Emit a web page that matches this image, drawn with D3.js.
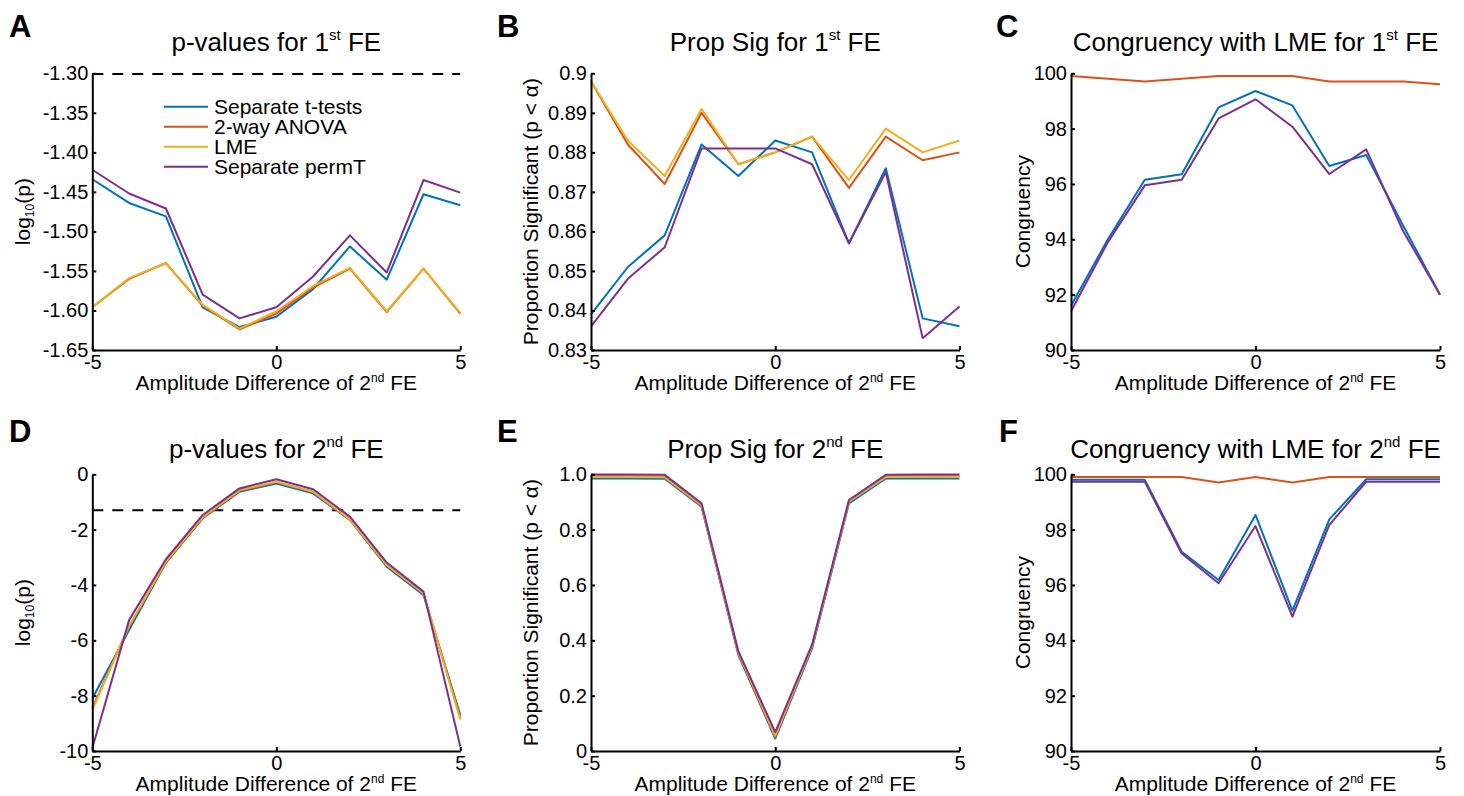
<!DOCTYPE html>
<html>
<head>
<meta charset="utf-8">
<script src="https://cdn.jsdelivr.net/npm/d3@7/dist/d3.min.js"></script>
<style>
  html, body { margin: 0; padding: 0; background: #fff; }
  svg text { font-family: Arial, "Liberation Sans", Helvetica, sans-serif; fill: #000; }
</style>
</head>
<body>
<svg id="chart" width="1464" height="796"></svg>
<script>
// ---------------- DATA ----------------
const xVals = [-5, -4, -3, -2, -1, 0, 1, 2, 3, 4, 5];
const seriesNames = ["Separate t-tests", "2-way ANOVA", "LME", "Separate permT"];
const seriesColors = ["#0072BD", "#D95319", "#EDB120", "#7E2F8E"];

// Panel A: p-values for 1st FE (log10 p)
const aTtest = [-1.434, -1.464, -1.481, -1.596, -1.621, -1.608, -1.573, -1.519, -1.561, -1.453, -1.467];
const aAnova = [-1.596, -1.560, -1.540, -1.594, -1.624, -1.604, -1.571, -1.547, -1.602, -1.547, -1.604];
const aLme   = [-1.596, -1.559, -1.540, -1.593, -1.623, -1.601, -1.569, -1.546, -1.601, -1.547, -1.603];
const aPermT = [-1.422, -1.452, -1.471, -1.580, -1.610, -1.596, -1.557, -1.505, -1.552, -1.435, -1.451];

// Panel B: Prop Sig for 1st FE
const bTtest = [0.839, 0.851, 0.859, 0.882, 0.874, 0.883, 0.880, 0.857, 0.876, 0.838, 0.836];
const bAnova = [0.898, 0.882, 0.872, 0.890, 0.877, 0.880, 0.884, 0.871, 0.884, 0.878, 0.880];
const bLme   = [0.898, 0.883, 0.874, 0.891, 0.877, 0.880, 0.884, 0.873, 0.886, 0.880, 0.883];
const bPermT = [0.836, 0.848, 0.856, 0.881, 0.881, 0.881, 0.877, 0.857, 0.875, 0.833, 0.841];

// Panel C: Congruency with LME for 1st FE
const cTtest = [91.6, 94.0, 96.15, 96.35, 98.77, 99.36, 98.84, 96.65, 97.05, 94.5, 92.0];
const cAnova = [99.9, 99.8, 99.7, 99.8, 99.9, 99.9, 99.9, 99.7, 99.7, 99.7, 99.6];
const cPermT = [91.4, 93.9, 95.95, 96.15, 98.37, 99.06, 98.07, 96.36, 97.25, 94.3, 92.0];

// Panel D: p-values for 2nd FE (log10 p)
const dTtest = [-8.10, -5.63, -3.19, -1.59, -0.63, -0.33, -0.69, -1.65, -3.34, -4.36, -8.70];
const dAnova = [-8.45, -5.50, -3.20, -1.57, -0.60, -0.28, -0.64, -1.63, -3.28, -4.32, -8.80];
const dLme   = [-8.52, -5.48, -3.16, -1.55, -0.57, -0.27, -0.63, -1.63, -3.28, -4.30, -8.86];
const dPermT = [-9.90, -5.27, -3.07, -1.47, -0.51, -0.18, -0.54, -1.53, -3.19, -4.24, -9.84];

// Panel E: Prop Sig for 2nd FE
const eTtest = [0.985, 0.985, 0.984, 0.883, 0.347, 0.045, 0.371, 0.895, 0.985, 0.985, 0.985];
const eAnova = [0.993, 0.993, 0.992, 0.886, 0.352, 0.050, 0.378, 0.900, 0.993, 0.993, 0.993];
const eLme   = [0.990, 0.990, 0.989, 0.888, 0.355, 0.055, 0.380, 0.902, 0.990, 0.990, 0.990];
const ePermT = [0.999, 0.999, 0.998, 0.895, 0.360, 0.068, 0.385, 0.907, 0.998, 0.999, 0.999];

// Panel F: Congruency with LME for 2nd FE
const fTtest = [99.8, 99.8, 99.8, 97.2, 96.18, 98.53, 95.07, 98.37, 99.82, 99.82, 99.82];
const fAnova = [99.9, 99.9, 99.9, 99.9, 99.7, 99.9, 99.7, 99.9, 99.9, 99.9, 99.9];
const fPermT = [99.73, 99.73, 99.73, 97.14, 96.06, 98.13, 94.86, 98.17, 99.73, 99.73, 99.73];

// Tick values / labels
const xTicks = [-5, 0, 5];
const aYTicks = [-1.65, -1.60, -1.55, -1.50, -1.45, -1.40, -1.35, -1.30];
const aYLabels = ["-1.65", "-1.60", "-1.55", "-1.50", "-1.45", "-1.40", "-1.35", "-1.30"];
const bYTicks = [0.83, 0.84, 0.85, 0.86, 0.87, 0.88, 0.89, 0.90];
const bYLabels = ["0.83", "0.84", "0.85", "0.86", "0.87", "0.88", "0.89", "0.9"];
const congYTicks = [90, 92, 94, 96, 98, 100];
const congYLabels = ["90", "92", "94", "96", "98", "100"];
const dYTicks = [-10, -8, -6, -4, -2, 0];
const dYLabels = ["-10", "-8", "-6", "-4", "-2", "0"];
const eYTicks = [0, 0.2, 0.4, 0.6, 0.8, 1.0];
const eYLabels = ["0", "0.2", "0.4", "0.6", "0.8", "1.0"];
const alphaLine = -1.301; // log10(0.05)

// ---------------- LAYOUT ----------------
const svg = d3.select("#chart");
const cols = [[92.3, 460.3], [591, 959.5], [1071, 1440]];
const rows = [[73.3, 350], [474.3, 751]];

const panels = [
  { letter: "A", col: 0, row: 0, title: ["p-values for 1", "st", " FE"], yDomain: [-1.65, -1.30], yTicks: aYTicks, yLabels: aYLabels,
    yLabel: "log", series: [aTtest, aAnova, aLme, aPermT], dashed: alphaLine, legend: true, letterPos: [9, 37], yLabelX: 30 },
  { letter: "B", col: 1, row: 0, title: ["Prop Sig for 1", "st", " FE"], yDomain: [0.83, 0.90], yTicks: bYTicks, yLabels: bYLabels,
    yLabel: "prop", series: [bTtest, bAnova, bLme, bPermT], letterPos: [497, 37], yLabelX: 538 },
  { letter: "C", col: 2, row: 0, title: ["Congruency with LME for 1", "st", " FE"], yDomain: [90, 100], yTicks: congYTicks, yLabels: congYLabels,
    yLabel: "cong", series: [cTtest, cAnova, null, cPermT], letterPos: [996, 37], yLabelX: 1030 },
  { letter: "D", col: 0, row: 1, title: ["p-values for 2", "nd", " FE"], yDomain: [-10, 0], yTicks: dYTicks, yLabels: dYLabels,
    yLabel: "log", series: [dTtest, dAnova, dLme, dPermT], dashed: alphaLine, letterPos: [9, 442], yLabelX: 30 },
  { letter: "E", col: 1, row: 1, title: ["Prop Sig for 2", "nd", " FE"], yDomain: [0, 1], yTicks: eYTicks, yLabels: eYLabels,
    yLabel: "prop", series: [eTtest, eAnova, eLme, ePermT], letterPos: [497, 442], yLabelX: 538 },
  { letter: "F", col: 2, row: 1, title: ["Congruency with LME for 2", "nd", " FE"], yDomain: [90, 100], yTicks: congYTicks, yLabels: congYLabels,
    yLabel: "cong", series: [fTtest, fAnova, null, fPermT], letterPos: [999, 442], yLabelX: 1030 }
];

const titleOffset = [22.6, 16];

panels.forEach(p => {
  const [x0, x1] = cols[p.col];
  const [y0, y1] = rows[p.row];
  const x = d3.scaleLinear().domain([-5, 5]).range([x0, x1]);
  const y = d3.scaleLinear().domain(p.yDomain).range([y1, y0]);
  const g = svg.append("g");

  // dashed alpha line
  if (p.dashed !== undefined) {
    g.append("line")
      .attr("x1", x(-5)).attr("x2", x(5))
      .attr("y1", y(p.dashed)).attr("y2", y(p.dashed))
      .attr("stroke", "#000").attr("stroke-width", 2)
      .attr("stroke-dasharray", "11,9");
  }

  // data lines
  const line = d3.line().x((d, i) => x(xVals[i])).y(d => y(d));
  p.series.forEach((s, i) => {
    if (!s) return;
    g.append("path").datum(s)
      .attr("d", line)
      .attr("fill", "none")
      .attr("stroke", seriesColors[i])
      .attr("stroke-width", 2)
      .attr("stroke-linejoin", "round");
  });

  // axes
  const yAxis = d3.axisLeft(y).tickValues(p.yTicks)
    .tickFormat((d, i) => p.yLabels[i]).tickSizeInner(-4).tickSizeOuter(0).tickPadding(4);
  const xAxis = d3.axisBottom(x).tickValues(xTicks)
    .tickFormat(d => String(d)).tickSizeInner(-4).tickSizeOuter(0).tickPadding(5);

  const ya = g.append("g").attr("transform", `translate(${x0},0)`).call(yAxis);
  const xa = g.append("g").attr("transform", `translate(0,${y1})`).call(xAxis);
  [ya, xa].forEach(a => {
    a.select(".domain").attr("stroke", "#000").attr("stroke-width", 2);
    a.selectAll(".tick line").attr("stroke", "#000").attr("stroke-width", 2);
    a.selectAll(".tick text").attr("font-size", 20).attr("fill", "#000")
      .style("font-family", "Arial, 'Liberation Sans', Helvetica, sans-serif");
  });

  // title
  const cx = (x0 + x1) / 2;
  const t = svg.append("text").attr("x", cx).attr("y", y0 - titleOffset[p.row])
    .attr("text-anchor", "middle").attr("font-size", 26);
  t.append("tspan").text(p.title[0]);
  t.append("tspan").attr("font-size", 15).attr("dy", -11).text(p.title[1]);
  t.append("tspan").attr("dy", 11).text(p.title[2]);

  // x label
  const xl = svg.append("text").attr("x", cx).attr("y", y1 + 39.5)
    .attr("text-anchor", "middle").attr("font-size", 21);
  xl.append("tspan").text("Amplitude Difference of 2");
  xl.append("tspan").attr("font-size", 12).attr("dy", -8).text("nd");
  xl.append("tspan").attr("dy", 8).text(" FE");

  // y label
  const cy = (y0 + y1) / 2;
  const yl = svg.append("text")
    .attr("transform", `translate(${p.yLabelX},${cy}) rotate(-90)`)
    .attr("text-anchor", "middle").attr("font-size", 21);
  if (p.yLabel === "log") {
    yl.append("tspan").text("log");
    yl.append("tspan").attr("font-size", 12).attr("dy", 4).text("10");
    yl.append("tspan").attr("dy", -4).text("(p)");
  } else if (p.yLabel === "prop") {
    yl.text("Proportion Significant (p < α)");
  } else {
    yl.text("Congruency");
  }

  // panel letter
  svg.append("text").attr("x", p.letterPos[0]).attr("y", p.letterPos[1])
    .attr("font-size", 31).attr("font-weight", "bold").text(p.letter);

  // legend
  if (p.legend) {
    const lg = svg.append("g");
    seriesNames.forEach((name, i) => {
      const ly = 106.7 + i * 20;
      lg.append("line").attr("x1", 164).attr("x2", 208).attr("y1", ly).attr("y2", ly)
        .attr("stroke", seriesColors[i]).attr("stroke-width", 2);
      lg.append("text").attr("x", 214).attr("y", ly).attr("dy", "0.36em")
        .attr("font-size", 21).text(name);
    });
  }
});
</script>
</body>
</html>
